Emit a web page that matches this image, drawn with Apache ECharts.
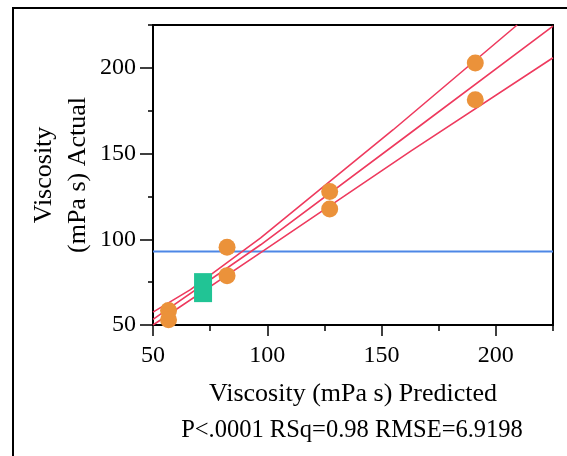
<!DOCTYPE html>
<html>
<head>
<meta charset="utf-8">
<script src="https://cdn.jsdelivr.net/npm/echarts@6/dist/echarts.min.js"></script>
<style>
html,body{margin:0;padding:0;background:#fff;}
#chart{width:567px;height:456px;}
</style>
</head>
<body>
<div id="chart"></div>
<script>
// ---- data ----
const xMajorTicks = [50, 100, 150, 200];
const xMinorTicks = [75, 125, 175, 225];
const yMajorTicks = [50, 100, 150, 200];
const yMinorTicks = [75, 125, 175, 225];
const predicted = [56.8, 56.8, 82.4, 82.4, 127.3, 127.3, 191.0, 191.0];
const actual    = [58.5, 53.1, 95.3, 78.8, 127.9, 117.7, 202.8, 181.4];
const excludedPoint = [71.9, 71.8];
const meanActual = 92.9;
const fitLine   = [[50, 53.3], [97.1, 96.8], [162.6, 162.0], [225, 224.4]];
const upperBand = [[50, 57.5], [66.4, 70.6], [97.1, 100.8], [155.1, 163.9], [209.3, 225]];
const lowerBand = [[50, 50], [97.1, 92.2], [162.6, 151.3], [225, 205.9]];
const xTitle = 'Viscosity (mPa s) Predicted';
const yTitle = 'Viscosity\n(mPa s) Actual';
const statsText = 'P<.0001 RSq=0.98 RMSE=6.9198';

const FONT = "'Liberation Serif', 'Times New Roman', serif";
const RED = '#EE3A5E', BLUE = '#4D87E6', ORANGE = '#EB923A', GREEN = '#21C495';

const chart = echarts.init(document.getElementById('chart'), null, {renderer: 'canvas'});
const pts = predicted.map((p, i) => [p, actual[i]]);

const axisCommon = {
  type: 'value', min: 50, max: 225,
  splitLine: {show: false}
};

chart.setOption({
  animation: false,
  backgroundColor: '#fff',
  grid: {left: 153, right: 14, top: 25, bottom: 131, show: true,
         borderColor: '#000', borderWidth: 2, backgroundColor: 'transparent'},
  xAxis: [
    Object.assign({}, axisCommon, {
      position: 'bottom',
      name: xTitle, nameLocation: 'middle', nameGap: 56, nameMoveOverlap: false,
      nameTextStyle: {fontFamily: FONT, fontSize: 26, color: '#000'},
      axisLine: {show: true, lineStyle: {color: '#000', width: 2}},
      axisTick: {show: true, length: 11, lineStyle: {color: '#000', width: 1.5}, customValues: xMajorTicks},
      axisLabel: {show: true, margin: 19, fontFamily: FONT, fontSize: 24, color: '#000', customValues: xMajorTicks}
    }),
    Object.assign({}, axisCommon, {
      position: 'bottom',
      axisLine: {show: false},
      axisTick: {show: true, length: 6, lineStyle: {color: '#000', width: 1.5}, customValues: xMinorTicks},
      axisLabel: {show: false}
    })
  ],
  yAxis: [
    Object.assign({}, axisCommon, {
      position: 'left',
      name: yTitle, nameLocation: 'middle', nameGap: 58, nameRotate: 90, nameMoveOverlap: false,
      nameTextStyle: {fontFamily: FONT, fontSize: 26, color: '#000', lineHeight: 34, align: 'center'},
      axisLine: {show: true, lineStyle: {color: '#000', width: 2}},
      axisTick: {show: true, length: 13, lineStyle: {color: '#000', width: 1.5}, customValues: yMajorTicks},
      axisLabel: {show: true, margin: 17, fontFamily: FONT, fontSize: 24, color: '#000', customValues: yMajorTicks}
    }),
    Object.assign({}, axisCommon, {
      position: 'left',
      axisLine: {show: false},
      axisTick: {show: true, length: 5, lineStyle: {color: '#000', width: 1.5}, customValues: yMinorTicks},
      axisLabel: {show: false}
    })
  ],
  graphic: [
    {type: 'rect', shape: {x: 13, y: 8, width: 700, height: 600},
     style: {fill: 'none', stroke: '#000', lineWidth: 2}, silent: true},
    {type: 'text', x: 352, y: 431,
     style: {text: statsText, fontFamily: FONT, fontSize: 24.5, fill: '#000',
             textAlign: 'center', textVerticalAlign: 'middle'}}
  ],
  series: [
    {type: 'line', name: 'Mean', data: [[50, meanActual], [225, meanActual]], symbol: 'none',
     lineStyle: {color: BLUE, width: 2}, z: 2},
    {type: 'line', name: 'Fit', data: fitLine, symbol: 'none', lineStyle: {color: RED, width: 1.6}, z: 3},
    {type: 'line', name: 'Upper', data: upperBand, symbol: 'none', lineStyle: {color: RED, width: 1.6}, z: 3},
    {type: 'line', name: 'Lower', data: lowerBand, symbol: 'none', lineStyle: {color: RED, width: 1.6}, z: 3},
    {type: 'scatter', name: 'Rows', data: pts, symbol: 'circle', symbolSize: 17,
     itemStyle: {color: ORANGE, opacity: 1}, z: 4},
    {type: 'scatter', name: 'Excluded', data: [excludedPoint], symbol: 'rect', symbolSize: [18, 29],
     itemStyle: {color: GREEN, opacity: 1}, z: 5}
  ]
});
</script>
</body>
</html>
